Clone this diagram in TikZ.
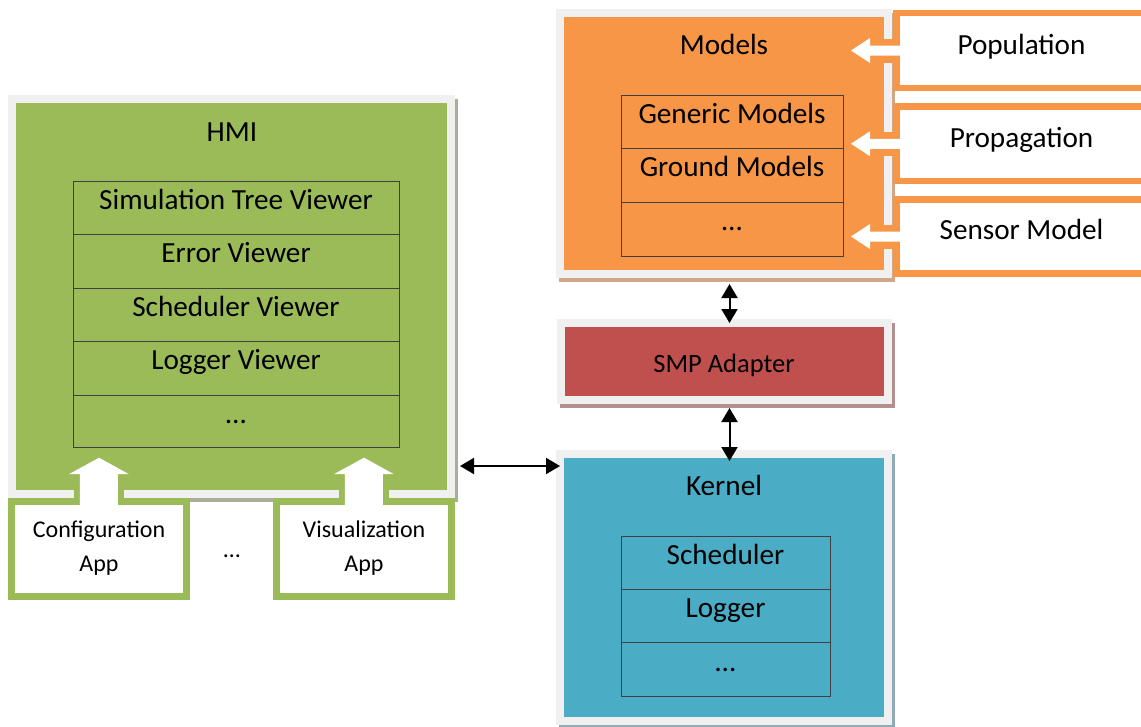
\documentclass[tikz,border=0pt]{standalone}
\usepackage{fontspec}
\setmainfont{Carlito}
\usetikzlibrary{arrows.meta,calc}
\definecolor{frameg}{HTML}{F0F0F0}
\definecolor{modor}{HTML}{F79646}
\definecolor{hmig}{HTML}{9BBB59}
\definecolor{smpr}{HTML}{C0504D}
\definecolor{kerb}{HTML}{4BACC6}
\definecolor{shor}{HTML}{D0A887}
\definecolor{shg}{HTML}{A8AF95}
\definecolor{shr}{HTML}{B48F8F}
\definecolor{shb}{HTML}{90ABB6}
\begin{document}
\begin{tikzpicture}[x=1pt,y=-1pt,
  panel/.style={draw=frameg, line width=8pt, inner sep=0pt, outer sep=0pt},
  cell/.style={draw=black!75, line width=0.9pt, inner sep=0pt, outer sep=0pt},
  side/.style={draw=modor, fill=white, line width=6.5pt, inner sep=0pt, outer sep=0pt},
  app/.style={draw=hmig, fill=white, line width=7pt, inner sep=0pt, outer sep=0pt},
  big/.style={font=\fontsize{29.2}{34}\selectfont, anchor=base, inner sep=0pt},
  mid/.style={font=\fontsize{26.5}{30}\selectfont, anchor=base, inner sep=0pt},
  small/.style={font=\fontsize{24}{28}\selectfont, anchor=base, inner sep=0pt},
  dbl/.style={{Triangle[length=14pt,width=16pt]}-{Triangle[length=14pt,width=16pt]}, line width=2pt},
]
\useasboundingbox (0,0) rectangle (1141,726);
\clip (0,0) rectangle (1141,726);

% ---------- Models ----------
\fill[shor] (559,13) rectangle (895,282);
\node[panel, fill=modor, minimum width=328pt, minimum height=261pt] (models) at (724,143.5) {};
\node[big] (modelst) at (724,54) {Models};
\node[cell, minimum width=222pt, minimum height=53pt] (gm) at (732,121.5) {};
\node[cell, minimum width=222pt, minimum height=54pt] (grm) at (732,175) {};
\node[cell, minimum width=222pt, minimum height=54pt] (mdots) at (732,229) {};
\node[big] (gmt) at ($(gm.north)+(0,28)$) {Generic Models};
\node[big] (grmt) at ($(grm.north)+(0,28)$) {Ground Models};
\node[big] (mdotst) at ($(mdots.north)+(0,28)$) {…};

% ---------- side inputs ----------
\node[side, minimum width=268.5pt, minimum height=75pt] (pop) at (1030.75,50.5) {};
\node[side, minimum width=268.5pt, minimum height=74.5pt] (prop) at (1030.75,143.75) {};
\node[side, minimum width=268.5pt, minimum height=74pt] (sens) at (1030.75,236.5) {};
\foreach \n in {pop,prop,sens}{
  \begin{scope}[shift={(\n.west)}]
    \fill[modor] (-30.5,-12) rectangle (0.5,12);
    \fill[white] (-45.5,0) -- (-26.5,-12.5) -- (-26.5,-5) -- (4,-5) -- (4,5)
      -- (-26.5,5) -- (-26.5,12.5) -- cycle;
  \end{scope}
}
\node[big] (popt) at (1021.5,54) {Population};
\node[big] (propt) at (1021.5,147) {Propagation};
\node[big] (senst) at (1021.5,239.5) {Sensor Model};

% ---------- SMP Adapter ----------
\fill[shr] (560,323) rectangle (895,408);
\node[panel, fill=smpr, minimum width=327pt, minimum height=77pt] (smp) at (724.5,361.5) {};
\node[mid] (smpt) at (724,372) {SMP Adapter};

% ---------- Kernel ----------
\fill[shb] (559,454) rectangle (895,729);
\node[panel, fill=kerb, minimum width=328pt, minimum height=267pt] (kernel) at (724,587.5) {};
\node[big] (kernelt) at (724,495) {Kernel};
\node[cell, minimum width=209pt, minimum height=53pt] (ks) at (725.5,562.5) {};
\node[cell, minimum width=209pt, minimum height=53pt] (kl) at (725.5,615.5) {};
\node[cell, minimum width=209pt, minimum height=54pt] (kd) at (725.5,669) {};
\node[big] (kst) at ($(ks.north)+(0,28)$) {Scheduler};
\node[big] (klt) at ($(kl.north)+(0,28)$) {Logger};
\node[big] (kdt) at ($(kd.north)+(0,29)$) {…};

% ---------- HMI ----------
\fill[shg] (11,99) rectangle (458,502);
\node[panel, fill=hmig, minimum width=439pt, minimum height=395pt] (hmi) at (231.5,296.5) {};
\node[big] (hmit) at (232,141) {HMI};
\node[cell, minimum width=326pt, minimum height=53pt] (h1) at (236,207.5) {};
\node[cell, minimum width=326pt, minimum height=54pt] (h2) at (236,261) {};
\node[cell, minimum width=326pt, minimum height=53pt] (h3) at (236,314.5) {};
\node[cell, minimum width=326pt, minimum height=54pt] (h4) at (236,368) {};
\node[cell, minimum width=326pt, minimum height=52pt] (h5) at (236,421) {};
\node[big] (h1t) at ($(h1.north)+(0,28)$) {Simulation Tree Viewer};
\node[big] (h2t) at ($(h2.north)+(0,28)$) {Error Viewer};
\node[big] (h3t) at ($(h3.north)+(0,28)$) {Scheduler Viewer};
\node[big] (h4t) at ($(h4.north)+(0,28)$) {Logger Viewer};
\node[big] (h5t) at ($(h5.north)+(0,28)$) {…};

% ---------- Apps ----------
\node[app, minimum width=174.5pt, minimum height=95.5pt] (cfg) at (98.75,548.75) {};
\node[app, minimum width=174.5pt, minimum height=95.5pt] (vis) at (363.75,548.75) {};
\foreach \n in {cfg,vis}{
  \begin{scope}[shift={(\n.north)}]
    \fill[hmig] (-25,-31) rectangle (25,0.5);
    \fill[white] (0.3,-43.3) -- (29.8,-27) -- (19,-27) -- (19,4) -- (-19,4)
      -- (-19,-27) -- (-29.5,-27) -- cycle;
  \end{scope}
}
\node[small] (cfg1) at (99,537) {Configuration};
\node[small] (cfg2) at (99,571) {App};
\node[small] (vis1) at (364,537) {Visualization};
\node[small] (vis2) at (364,571) {App};
\node[small] (appdots) at (232,557) {…};

% ---------- connectors ----------
\coordinate (hk) at (0,466);
\draw[dbl, shorten <=9pt] (hmi.east |- hk) -- (kernel.west |- hk);
\draw[dbl, shorten <=10pt] ([xshift=5.5pt]models.south) -- ([xshift=5pt]smp.north);
\draw[dbl, shorten <=8pt, shorten >=-7pt] ([xshift=5pt]smp.south) -- ([xshift=5.5pt]kernel.north);
\end{tikzpicture}
\end{document}
